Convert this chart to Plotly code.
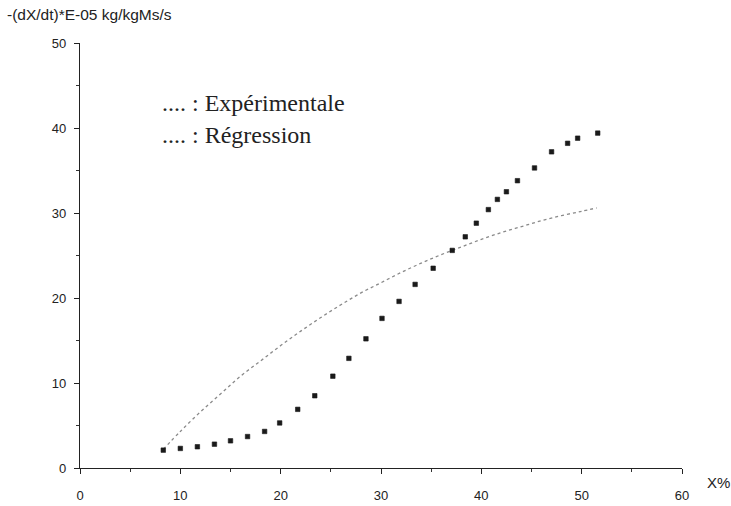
import plotly.graph_objects as go

# Experimental drying-rate measurements: moisture content X (%) vs -(dX/dt)*1E-05
x_exp = [8.3, 10.0, 11.7, 13.4, 15.0, 16.7, 18.4, 19.9, 21.7, 23.4,
         25.2, 26.8, 28.5, 30.1, 31.8, 33.4, 35.2, 37.1, 38.4, 39.5,
         40.7, 41.6, 42.5, 43.6, 45.3, 47.0, 48.6, 49.6, 51.6]
y_exp = [2.1, 2.3, 2.5, 2.8, 3.2, 3.7, 4.3, 5.3, 6.9, 8.5,
         10.8, 12.9, 15.2, 17.6, 19.6, 21.6, 23.5, 25.6, 27.2, 28.8,
         30.4, 31.6, 32.5, 33.8, 35.3, 37.2, 38.2, 38.8, 39.4]

# Regression curve values
x_reg = [8.3, 10, 12, 14, 16, 18, 20, 22, 24, 26, 28, 30,
         32, 34, 36, 38, 40, 42, 44, 46, 48, 50, 51.5]
y_reg = [2.2, 4.3, 6.6, 8.7, 10.8, 12.6, 14.4, 16.1, 17.7, 19.2, 20.6, 21.8,
         23.0, 24.1, 25.1, 26.0, 26.9, 27.7, 28.4, 29.1, 29.7, 30.2, 30.6]

x_ticks = [0, 10, 20, 30, 40, 50, 60]
y_ticks = [0, 10, 20, 30, 40, 50]

y_title = "-(dX/dt)*E-05 kg/kgMs/s"
x_title = "X%"
legend_lines = [".... : Expérimentale", ".... : Régression"]

fig = go.Figure()

fig.add_trace(go.Scatter(
    x=x_reg, y=y_reg, mode="lines", line_shape="spline",
    line=dict(color="#8a8a8a", width=1.3, dash="dot"),
    hoverinfo="skip", showlegend=False,
))

fig.add_trace(go.Scatter(
    x=x_exp, y=y_exp, mode="markers",
    marker=dict(symbol="square", size=4.5, color="#1a1a1a",
                line=dict(width=0.6, color="#1a1a1a")),
    showlegend=False,
))

axis_common = dict(
    showline=True, linecolor="#222", linewidth=1.2,
    showgrid=False, zeroline=False, automargin=False,
    ticks="outside", ticklen=5, tickwidth=1, tickcolor="#222",
    tickfont=dict(family="Liberation Sans, Arial, sans-serif", size=13, color="#222"),
    minor=dict(dtick=5, ticks="outside", ticklen=3, tickcolor="#333", tickwidth=1),
)

fig.update_xaxes(range=[0, 60], tickvals=x_ticks, ticklabelstandoff=10, **axis_common)
fig.update_yaxes(range=[0, 50], tickvals=y_ticks, ticklabelstandoff=5, **axis_common)

annotations = [
    dict(text=y_title, xref="paper", yref="paper", x=-0.1246, y=1.068,
         xanchor="left", yanchor="middle", showarrow=False,
         font=dict(family="Liberation Sans, Arial, sans-serif", size=15.5, color="#222")),
    dict(text=x_title, xref="paper", yref="paper", x=1.038, y=-0.034,
         xanchor="left", yanchor="middle", showarrow=False,
         font=dict(family="Liberation Sans, Arial, sans-serif", size=15, color="#222")),
]
for txt, yp in zip(legend_lines, [0.859, 0.783]):
    annotations.append(dict(
        text=txt, xref="paper", yref="paper", x=0.133, y=yp,
        xanchor="left", yanchor="middle", showarrow=False,
        font=dict(family="Liberation Serif, Times New Roman, serif", size=24, color="#222"),
    ))

fig.update_layout(
    width=731, height=506,
    margin=dict(l=80, r=49, t=43, b=37.5, autoexpand=False),
    paper_bgcolor="white", plot_bgcolor="white",
    annotations=annotations,
)

fig.write_html("out.html")
